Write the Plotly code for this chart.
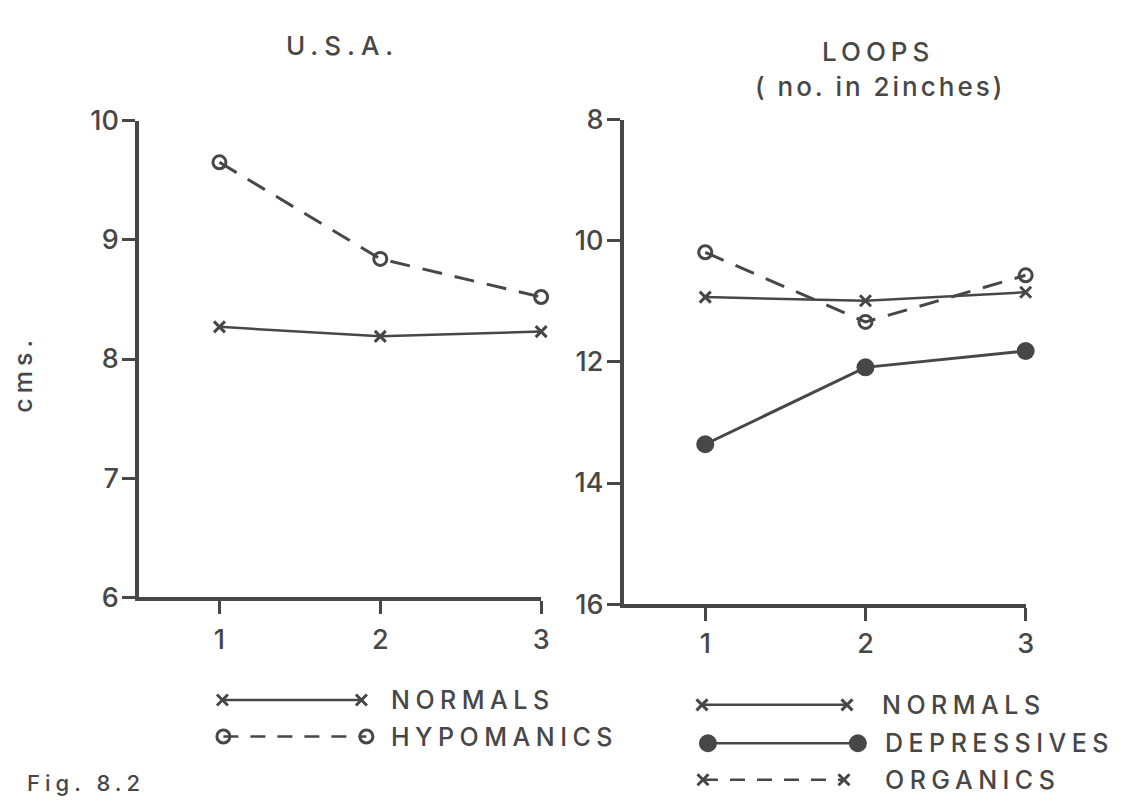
import plotly.graph_objects as go

# ---- data ----
trials = [1, 2, 3]

usa_normals = [8.27, 8.19, 8.23]
usa_hypomanics = [9.65, 8.84, 8.52]

loops_normals = [10.93, 10.99, 10.85]
loops_depressives = [13.36, 12.09, 11.82]
loops_organics = [10.19, 11.34, 10.57]

usa_ticks = [6, 7, 8, 9, 10]
loops_ticks = [8, 10, 12, 14, 16]

INK = "#474747"
FONT = "Inter, DejaVu Sans, sans-serif"
WEIGHT = 500
W, H = 1128, 812

fig = go.Figure()

x_marker = dict(symbol="x-thin-open", size=11, line=dict(width=3, color=INK), color=INK)
o_marker = dict(symbol="circle-open", size=13, line=dict(width=3, color=INK), color=INK)
dot_marker = dict(symbol="circle", size=18, color=INK, line=dict(width=0))

# left panel: U.S.A.
fig.add_trace(go.Scatter(x=trials, y=usa_normals, mode="lines+markers",
                         line=dict(color=INK, width=2.5), marker=x_marker,
                         xaxis="x", yaxis="y", cliponaxis=False, name="NORMALS"))
fig.add_trace(go.Scatter(x=trials, y=usa_hypomanics, mode="lines+markers",
                         line=dict(color=INK, width=3, dash="20px,13px"), marker=o_marker,
                         xaxis="x", yaxis="y", cliponaxis=False, name="HYPOMANICS"))

# right panel: LOOPS
fig.add_trace(go.Scatter(x=trials, y=loops_normals, mode="lines+markers",
                         line=dict(color=INK, width=2.5), marker=x_marker,
                         xaxis="x2", yaxis="y2", cliponaxis=False, name="NORMALS"))
fig.add_trace(go.Scatter(x=trials, y=loops_depressives, mode="lines+markers",
                         line=dict(color=INK, width=3), marker=dot_marker,
                         xaxis="x2", yaxis="y2", cliponaxis=False, name="DEPRESSIVES"))
fig.add_trace(go.Scatter(x=trials, y=loops_organics, mode="lines+markers",
                         line=dict(color=INK, width=3, dash="20px,13px"), marker=o_marker,
                         xaxis="x2", yaxis="y2", cliponaxis=False, name="ORGANICS"))

# key samples, drawn on a full-page helper axis measured in pixels
def key_sample(x0, x1, y, marker, dash):
    fig.add_trace(go.Scatter(x=[x0, x1], y=[y, y], mode="lines+markers",
                             line=dict(color=INK, width=2.5, dash=dash), marker=marker,
                             xaxis="x3", yaxis="y3", cliponaxis=False, showlegend=False,
                             hoverinfo="skip"))

key_sample(224, 364, 712, x_marker, "solid")
key_sample(225, 369, 750, o_marker, "15px,12px")
key_sample(707, 853, 717, x_marker, "solid")
key_sample(713, 864, 757, dot_marker, "solid")
key_sample(708, 850, 795, x_marker, "15px,12px")

def px_x(v):
    return v / W

def px_y(v):
    return 1 - v / H

tick_font = dict(family=FONT, size=27, color=INK, weight=WEIGHT)
axis_common = dict(showline=True, linecolor=INK, linewidth=3.5, ticks="outside",
                   ticklen=13, tickwidth=3, tickcolor=INK, showgrid=False,
                   zeroline=False, tickfont=tick_font)

fig.update_layout(
    width=W, height=H,
    margin=dict(l=0, r=0, t=0, b=0),
    paper_bgcolor="white", plot_bgcolor="rgba(0,0,0,0)",
    showlegend=False,
    xaxis=dict(domain=[px_x(140), px_x(545)], range=[0.5, 3], tickvals=trials,
               anchor="y", ticklabelstandoff=2, **axis_common),
    yaxis=dict(domain=[px_y(605), px_y(108)], range=[6, 10], tickvals=usa_ticks,
               anchor="x", ticklabelstandoff=-2, **axis_common),
    xaxis2=dict(domain=[px_x(628), px_x(1033)], range=[0.49, 3], tickvals=trials,
                anchor="y2", ticklabelstandoff=0, **axis_common),
    yaxis2=dict(domain=[px_y(612), px_y(107)], range=[16, 8], tickvals=loops_ticks,
                anchor="x2", ticklabelstandoff=-2, **axis_common),
    xaxis3=dict(domain=[0, 1], range=[0, W], visible=False, anchor="y3"),
    yaxis3=dict(domain=[0, 1], range=[H, 0], visible=False, anchor="x3"),
)

def label(text, x, y, size=25, spacing=5.5, xanchor="left", angle=0):
    styled = f'<span style="letter-spacing:{spacing}px">{text}</span>'
    fig.add_annotation(text=styled, x=px_x(x), y=px_y(y), xref="paper", yref="paper",
                       showarrow=False, xanchor=xanchor, yanchor="middle", textangle=angle,
                       font=dict(family=FONT, size=size, color=INK, weight=WEIGHT))

label("U.S.A.", 345, 30, size=26, spacing=6, xanchor="center")
label("LOOPS", 884, 36, size=26, spacing=5, xanchor="center")
label("( no. in 2inches)", 886, 72, size=26, spacing=3, xanchor="center")
label("cms.", 23, 372, size=25, spacing=5, xanchor="center", angle=-90)

label("NORMALS", 392, 712)
label("HYPOMANICS", 392, 750)
label("NORMALS", 886, 717)
label("DEPRESSIVES", 889, 757)
label("ORGANICS", 889, 795)

label("Fig. 8.2", 25, 798, size=22, spacing=5)

fig.write_html("out.html")
